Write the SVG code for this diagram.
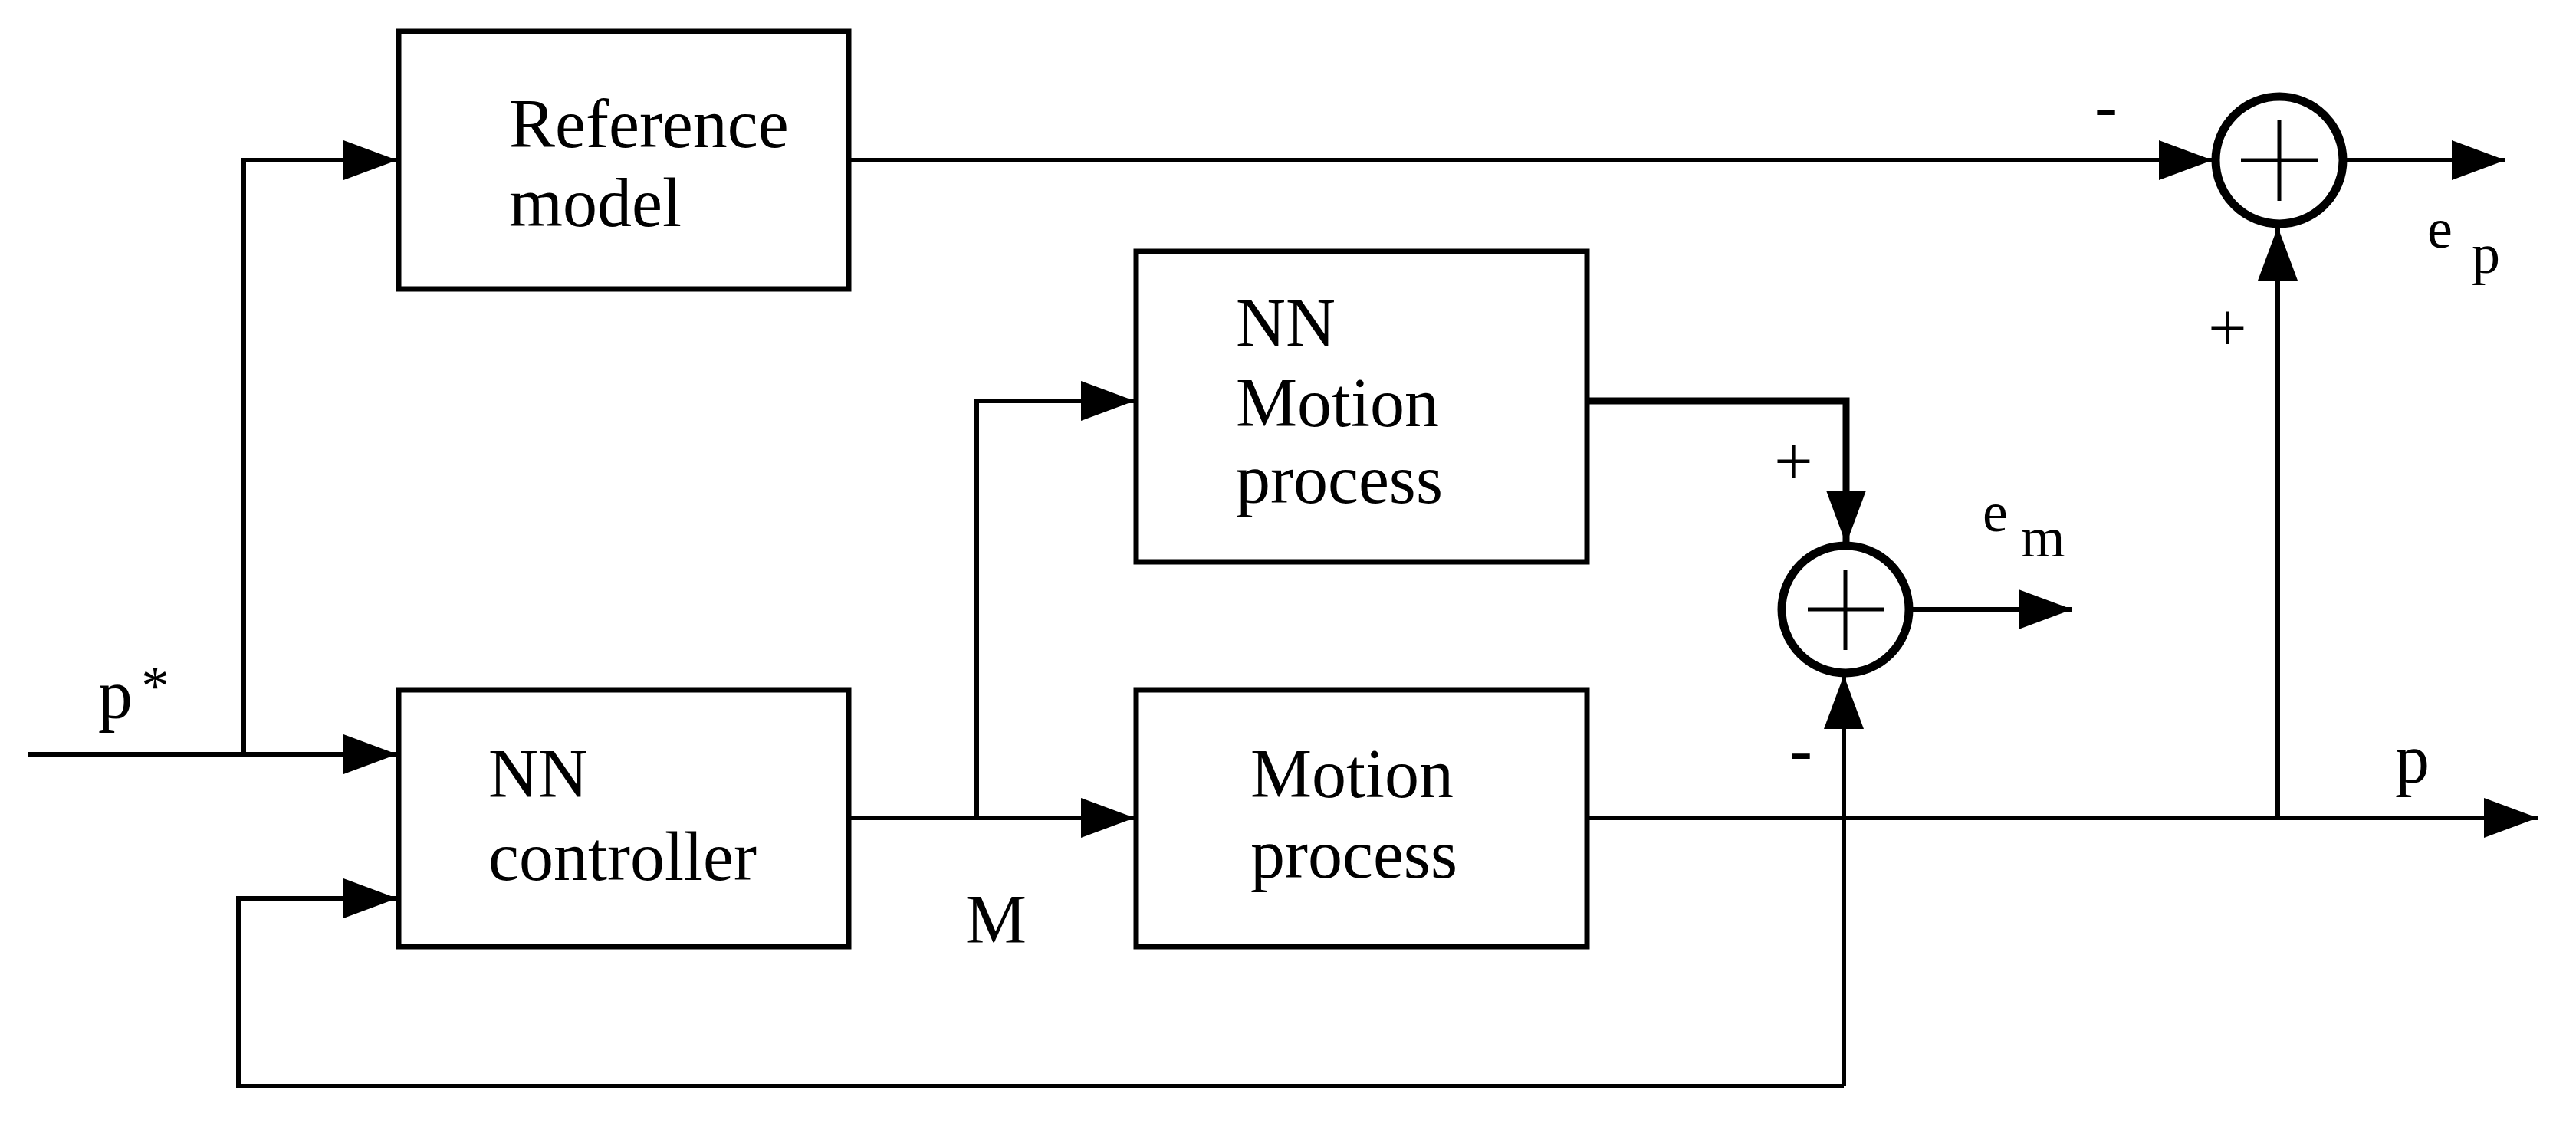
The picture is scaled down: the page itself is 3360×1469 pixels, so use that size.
<svg xmlns="http://www.w3.org/2000/svg" width="3360" height="1469" viewBox="0 0 3360 1469">
<style>
.box{fill:#fff;stroke:#000;stroke-width:7}
.ln{fill:none;stroke:#000;stroke-width:6}
.sum{fill:#fff;stroke:#000;stroke-width:11}
.t{font-family:"Liberation Serif",serif;font-size:90px;fill:#000}
.s{font-family:"Liberation Serif",serif;font-size:74px;fill:#000}
</style>
<defs>
<marker id="a" markerUnits="userSpaceOnUse" markerWidth="80" markerHeight="60" viewBox="0 0 80 60" refX="76" refY="30" orient="auto">
<path d="M6,4 L76,30 L6,56 Z" fill="#000"/>
</marker>
</defs>
<rect width="3360" height="1469" fill="#fff"/>
<g id="connectors">
<path class="ln" d="M37,984 H518" marker-end="url(#a)"/>
<path class="ln" d="M318,984 V209 H518" marker-end="url(#a)"/>
<path class="ln" d="M2405,1417 H311 V1172 H518" marker-end="url(#a)"/>
<path class="ln" d="M1107,209 H2886" marker-end="url(#a)"/>
<path class="ln" d="M3061,209 H3268" marker-end="url(#a)"/>
<path class="ln" d="M1107,1067 H1480" marker-end="url(#a)"/>
<path class="ln" d="M1274,1067 V523 H1480" marker-end="url(#a)"/>
<path class="ln" d="M2070,1067 H3310" marker-end="url(#a)"/>
<path class="ln" d="M2971,1067 V296" marker-end="url(#a)"/>
<path class="ln" d="M2070,523 H2408 V710" marker-end="url(#a)" style="stroke-width:9"/>
<path class="ln" d="M2405,1417 V881" marker-end="url(#a)"/>
<path class="ln" d="M2495,795 H2703" marker-end="url(#a)"/>
</g>
<g id="reference-model">
<rect class="box" x="520" y="41" width="587" height="336"/>
<text class="t" x="664" y="192">Reference</text>
<text class="t" x="664" y="295">model</text>
</g>
<g id="nn-controller">
<rect class="box" x="520" y="900" width="587" height="335"/>
<text class="t" x="637" y="1040">NN</text>
<text class="t" x="637" y="1148">controller</text>
</g>
<g id="nn-motion-process">
<rect class="box" x="1482" y="328" width="588" height="405"/>
<text class="t" x="1612" y="452">NN</text>
<text class="t" x="1612" y="556">Motion</text>
<text class="t" x="1612" y="656">process</text>
</g>
<g id="motion-process">
<rect class="box" x="1482" y="900" width="588" height="335"/>
<text class="t" x="1631" y="1040">Motion</text>
<text class="t" x="1631" y="1145">process</text>
</g>
<g id="sum-p">
<circle class="sum" cx="2973" cy="209" r="83"/>
<path class="ln" d="M2923,209 H3023 M2973,156 V262" style="stroke-width:5"/>
</g>
<g id="sum-m">
<circle class="sum" cx="2407" cy="795" r="83"/>
<path class="ln" d="M2358,795 H2457 M2407,744 V848" style="stroke-width:5"/>
</g>
<g id="labels">
<text class="t" x="128" y="937">p</text>
<text class="s" x="184" y="920">*</text>
<text class="t" x="1259" y="1230">M</text>
<text class="t" x="2732" y="168">-</text>
<text class="t" x="2880" y="458">+</text>
<text class="t" x="3124" y="1021">p</text>
<text class="s" x="3166" y="323">e</text>
<text class="s" x="3224" y="356">p</text>
<text class="t" x="2314" y="632">+</text>
<text class="t" x="2334" y="1008">-</text>
<text class="s" x="2586" y="693">e</text>
<text class="s" x="2636" y="726">m</text>
</g>
</svg>
